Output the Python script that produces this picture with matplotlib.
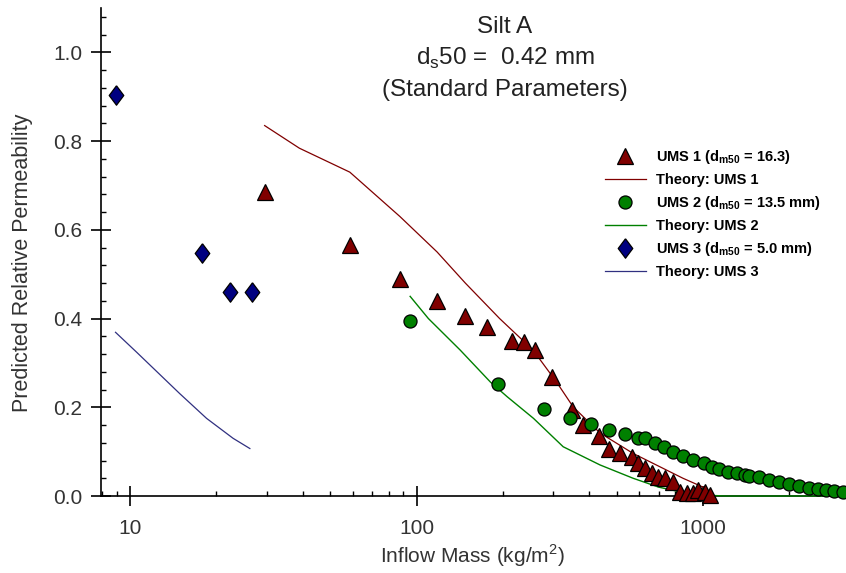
import matplotlib
matplotlib.use("Agg")
import matplotlib.pyplot as plt
from matplotlib.ticker import MultipleLocator, FixedLocator, NullFormatter, FixedFormatter

plt.rcParams['font.family'] = ['Liberation Sans', 'DejaVu Sans']

# UMS 1 measurements
ums1_x = [29.5, 58.5, 87.5, 118, 148, 176, 215, 237, 259, 296, 349, 381, 433, 471, 513,
          563, 594, 627, 662, 698, 736, 787, 831, 877, 925, 963, 1016, 1058]
ums1_y = [0.685, 0.565, 0.49, 0.44, 0.405, 0.38, 0.35, 0.348, 0.33, 0.269, 0.194, 0.16,
          0.136, 0.105, 0.096, 0.089, 0.074, 0.062, 0.051, 0.043, 0.04, 0.032, 0.01,
          0.006, 0.006, 0.013, 0.01, 0.003]

# UMS 2 measurements
ums2_x = [95, 193, 279, 344, 405, 468, 535, 594, 627, 681, 728, 787, 853, 925, 1004,
          1071, 1141, 1222, 1312, 1403, 1452, 1574, 1704, 1846, 2000, 2167, 2348, 2512,
          2686, 2872, 3076]
ums2_y = [0.395, 0.252, 0.195, 0.175, 0.162, 0.149, 0.139, 0.131, 0.13, 0.119, 0.11,
          0.1, 0.09, 0.081, 0.074, 0.066, 0.06, 0.055, 0.051, 0.048, 0.046, 0.042,
          0.037, 0.031, 0.027, 0.023, 0.019, 0.016, 0.013, 0.011, 0.01]

# UMS 3 measurements
ums3_x = [8.9, 17.8, 22.3, 26.7]
ums3_y = [0.905, 0.547, 0.459, 0.459]

# Theory curves
th1_x = [29.5, 39, 58.5, 87.5, 118, 148, 195, 255, 308, 352, 437, 570, 851, 1000, 1060]
th1_y = [0.835, 0.784, 0.73, 0.63, 0.55, 0.48, 0.40, 0.329, 0.257, 0.201, 0.142,
         0.096, 0.04, 0.02, 0.008]
th2_x = [95, 110, 142, 181, 207, 256, 325, 437, 570, 700, 850, 1000, 1200, 2000, 3155]
th2_y = [0.45, 0.40, 0.329, 0.257, 0.224, 0.175, 0.111, 0.07, 0.04, 0.02, 0.008,
         0.002, 0.0, 0.0, 0.0]
th3_x = [8.9, 10.55, 14.9, 18.5, 22.9, 26.2]
th3_y = [0.369, 0.324, 0.231, 0.175, 0.13, 0.107]

x_limits = (7.92, 3155)
y_limits = (0.0, 1.1)

W, H = 846, 573
fig = plt.figure(figsize=(W / 100, H / 100), dpi=100)
ax = fig.add_axes([101 / W, 77 / H, 1 - 101 / W, 488 / H])

maroon, green, navy = '#800000', '#008000', '#000080'
tall_diamond = [(0, 1), (0.75, 0), (0, -1), (-0.75, 0), (0, 1)]

ax.plot(ums1_x, ums1_y, linestyle='none', marker='^', ms=11, mfc=maroon, mec='black',
        mew=0.9, clip_on=False, zorder=4, label='UMS 1 (d$_{\\mathregular{m50}}$ = 16.3)')
ax.plot(th1_x, th1_y, color=maroon, lw=0.9, label='Theory: UMS 1', zorder=3)
ax.plot(ums2_x, ums2_y, linestyle='none', marker='o', ms=9.4, mfc=green, mec='black',
        mew=0.9, clip_on=False, zorder=4, label='UMS 2 (d$_{\\mathregular{m50}}$ = 13.5 mm)')
ax.plot(th2_x, th2_y, color=green, lw=1.0, label='Theory: UMS 2', zorder=3, clip_on=False)
ax.plot(ums3_x, ums3_y, linestyle='none', marker=tall_diamond, ms=14, mfc=navy, mec='black',
        mew=0.9, clip_on=False, zorder=4, label='UMS 3 (d$_{\\mathregular{m50}}$ = 5.0 mm)')
ax.plot(th3_x, th3_y, color='#303080', lw=0.9, label='Theory: UMS 3', zorder=3)

ax.set_xscale('log')
ax.set_xlim(*x_limits)
ax.set_ylim(*y_limits)

ax.spines['top'].set_visible(False)
ax.spines['right'].set_visible(False)
for s in ('left', 'bottom'):
    ax.spines[s].set_linewidth(1.2)

ax.yaxis.set_major_locator(FixedLocator([0.0, 0.2, 0.4, 0.6, 0.8, 1.0]))
ax.yaxis.set_major_formatter(FixedFormatter(['0.0', '0.2', '0.4', '0.6', '0.8', '1.0']))
ax.yaxis.set_minor_locator(MultipleLocator(0.04))
ax.xaxis.set_major_locator(FixedLocator([10, 100, 1000]))
ax.xaxis.set_major_formatter(FixedFormatter(['10', '100', '1000']))
minors = [m * d for d in (1, 10, 100, 1000) for m in range(2, 10)]
ax.xaxis.set_minor_locator(FixedLocator(minors))
ax.xaxis.set_minor_formatter(NullFormatter())

ax.tick_params(which='major', direction='inout', length=15, width=1.2,
               labelsize=15, labelcolor='#333333')
ax.tick_params(which='minor', direction='in', length=3.5, width=1.0)
ax.tick_params(axis='x', which='major', pad=9)
ax.tick_params(axis='y', which='major', pad=6)

fig.text(23 / W, 1 - 263 / H, 'Predicted Relative Permeability', rotation=90,
         ha='center', va='center', fontsize=15.5, color='#333333')
fig.text(472 / W, 1 - 556 / H, 'Inflow Mass (kg/m$^{\\mathregular{2}}$)',
         ha='center', va='center', fontsize=15, color='#333333')

title_lines = ['Silt A', 'd$_{\\mathregular{s}}$50 =  0.42 mm', '(Standard Parameters)']
for i, t in enumerate(title_lines):
    fig.text(505 / W, 1 - (27 + 31.5 * i) / H, t, ha='center', va='center',
             fontsize=17.5, color='#222222')

leg = fig.legend(loc='upper left', bbox_to_anchor=(605 / W, 1 - 148 / H),
                 frameon=False, fontsize=10.5, handlelength=2.8, handletextpad=0.7,
                 labelspacing=0.48, borderaxespad=0, borderpad=0)
for txt in leg.get_texts():
    txt.set_fontweight('bold')

fig.savefig('out.png', dpi=100)
